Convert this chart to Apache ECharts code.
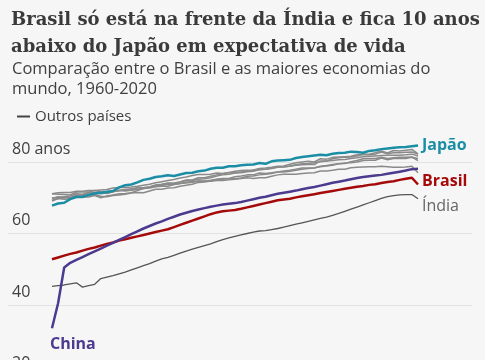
<!DOCTYPE html>
<html><head><meta charset="utf-8">
<script src="https://cdn.jsdelivr.net/npm/echarts@6/dist/echarts.min.js"></script>
<style>html,body{margin:0;padding:0;background:#f6f6f6}#c{width:485px;height:360px}</style>
</head><body><div id="c"></div>
<script>
var startYear = 1960, endYear = 2020;
var yTicks = [20, 40, 60, 80];
var japao = [67.8,68.4,68.6,69.6,70.2,70.2,70.8,71.2,71.4,71.6,71.9,72.9,73.5,73.7,74.3,75.0,75.3,75.8,76.0,76.3,76.1,76.5,76.9,77.0,77.4,77.6,78.1,78.4,78.4,78.8,78.8,79.1,79.2,79.3,79.7,79.5,80.2,80.4,80.5,80.6,81.1,81.4,81.6,81.8,82.0,81.9,82.3,82.5,82.6,82.9,82.8,82.6,83.1,83.3,83.6,83.8,84.0,84.1,84.2,84.4,84.6];
var brasil = [52.8,53.3,53.8,54.3,54.7,55.2,55.7,56.1,56.6,57.1,57.5,58.0,58.4,58.8,59.2,59.6,60.0,60.4,60.8,61.2,61.8,62.4,63.0,63.6,64.2,64.8,65.4,65.9,66.2,66.4,66.6,66.9,67.3,67.7,68.1,68.5,68.9,69.3,69.5,69.7,70.1,70.4,70.7,71.0,71.3,71.6,71.9,72.2,72.5,72.8,73.1,73.3,73.6,73.8,74.1,74.4,74.6,75.0,75.3,75.6,73.7];
var china = [33.5,40.5,50.5,51.8,52.6,53.4,54.2,55.0,55.8,56.6,57.4,58.2,59.0,59.8,60.6,61.4,62.1,62.8,63.4,64.1,64.7,65.3,65.8,66.3,66.7,67.1,67.5,67.8,68.1,68.3,68.5,68.8,69.2,69.6,70.0,70.3,70.7,71.1,71.4,71.7,72.0,72.4,72.7,73.0,73.4,73.8,74.2,74.5,74.8,75.2,75.5,75.8,76.0,76.2,76.4,76.7,77.0,77.3,77.6,78.0,78.1];
var india = [45.2,45.4,45.6,45.9,46.2,45.0,45.4,45.8,47.4,47.8,48.2,48.7,49.2,49.8,50.4,51.0,51.6,52.3,52.9,53.3,53.9,54.5,55.1,55.6,56.1,56.6,57.1,57.7,58.3,58.8,59.2,59.6,60.0,60.4,60.7,60.8,61.1,61.4,61.8,62.2,62.6,63.0,63.4,63.8,64.2,64.6,65.1,65.6,66.2,66.8,67.4,68.0,68.6,69.2,69.8,70.3,70.6,70.8,70.9,70.9,69.7];
var eua = [69.8,70.3,70.1,69.9,70.2,70.2,70.2,70.6,70.0,70.5,70.8,71.1,71.2,71.4,72.0,72.6,72.9,73.3,73.4,73.8,73.7,74.0,74.4,74.5,74.6,74.6,74.6,74.8,74.8,75.0,75.2,75.4,75.6,75.4,75.6,75.6,76.0,76.4,76.6,76.6,76.6,76.8,76.9,77.0,77.5,77.5,77.7,78.0,78.0,78.4,78.5,78.6,78.7,78.7,78.8,78.7,78.5,78.5,78.6,78.8,77.0];
var reinoUnido = [71.1,71.0,70.9,70.8,71.6,71.6,71.6,72.0,71.6,71.8,71.9,72.0,71.9,72.1,72.3,72.6,72.7,73.1,73.2,73.2,73.7,74.0,74.1,74.3,74.7,74.7,74.9,75.2,75.4,75.4,75.9,76.1,76.4,76.4,76.9,76.8,77.0,77.2,77.2,77.4,77.7,78.0,78.2,78.3,78.8,79.0,79.3,79.5,79.6,80.1,80.4,80.9,81.0,81.0,81.3,81.0,81.2,81.3,81.3,81.4,80.4];
var franca = [69.9,70.1,70.3,70.5,71.1,71.0,71.4,71.4,71.5,71.2,71.7,72.0,72.3,72.5,72.7,72.8,73.0,73.5,73.7,74.0,74.1,74.4,74.8,74.8,75.2,75.3,75.6,76.1,76.4,76.6,76.9,77.0,77.3,77.4,77.8,78.0,78.3,78.6,78.7,78.8,79.1,79.2,79.3,79.3,80.3,80.3,80.9,81.2,81.3,81.4,81.7,82.1,82.0,82.2,82.8,82.3,82.6,82.6,82.7,82.8,82.2];
var italia = [69.1,69.8,69.6,69.7,70.8,70.7,71.4,71.5,71.1,71.3,71.7,72.0,72.2,72.1,72.9,72.8,73.0,73.6,73.8,74.1,74.0,74.4,75.0,75.0,75.6,75.6,76.0,76.4,76.7,77.0,77.0,77.2,77.4,77.8,78.2,78.3,78.5,78.8,78.9,79.4,79.8,80.0,80.2,80.0,80.9,80.8,81.3,81.4,81.5,81.6,82.0,82.2,82.2,82.6,83.1,82.5,83.2,83.1,83.3,83.5,82.3];
var alemanha = [69.3,69.8,70.0,70.1,70.7,70.4,70.6,70.9,70.4,70.3,70.6,70.8,71.0,71.3,71.5,71.4,71.9,72.4,72.4,72.7,72.8,73.2,73.5,73.8,74.3,74.4,74.7,75.1,75.2,75.3,75.3,75.5,76.0,76.1,76.4,76.6,76.8,77.2,77.5,77.7,78.0,78.3,78.3,78.4,78.7,78.9,79.1,79.5,79.7,79.8,80.0,80.4,80.5,80.5,81.1,80.6,81.0,81.0,81.0,81.3,81.0];
var canada = [71.1,71.4,71.5,71.5,71.8,71.8,72.0,72.0,72.2,72.3,72.7,72.9,72.9,73.0,73.2,73.5,73.8,74.2,74.5,74.8,75.1,75.5,75.8,76.2,76.5,76.5,76.6,76.9,76.8,77.1,77.4,77.6,77.7,77.6,77.9,78.0,78.2,78.5,78.6,78.9,79.2,79.5,79.6,79.8,80.1,80.3,80.4,80.6,80.7,81.0,81.2,81.5,81.6,81.7,81.8,81.9,81.9,81.9,82.0,82.2,81.7];
var outros = [eua, reinoUnido, franca, italia, alemanha, canada];

var years = [];
for (var y = startYear; y <= endYear; y++) years.push(y);
function pairs(arr) { return arr.map(function (v, i) { return [years[i], v]; }); }

var SANS = '"Open Sans", sans-serif';
var series = [];
outros.forEach(function (arr) {
  series.push({ name: 'Outros países', type: 'line', data: pairs(arr), showSymbol: false, clip: false,
    lineStyle: { color: '#8a8a8a', width: 1.5 }, itemStyle: { color: '#555' }, z: 2, silent: true });
});
series.push({ name: 'Índia', type: 'line', data: pairs(india), showSymbol: false, clip: false,
  lineStyle: { color: '#555555', width: 1.3 }, z: 3,
  endLabel: { show: true, formatter: 'Índia', color: '#666', fontFamily: SANS, fontSize: 16, offset: [0, 8], distance: 4 } });
series.push({ name: 'Brasil', type: 'line', data: pairs(brasil), showSymbol: false, clip: false,
  lineStyle: { color: '#a50a0a', width: 2.5 }, z: 4,
  endLabel: { show: true, formatter: 'Brasil', color: '#a50a0a', fontFamily: SANS, fontWeight: 'bold', fontSize: 16, offset: [0, -3], distance: 4 } });
series.push({ name: 'China', type: 'line', data: pairs(china), showSymbol: false, clip: false,
  lineStyle: { color: '#4c3a8f', width: 2.5 }, z: 5,
  markPoint: { symbol: 'circle', symbolSize: 0, silent: true,
    data: [{ coord: [years[0], china[0]],
      label: { show: true, formatter: 'China', position: 'bottom', align: 'left', offset: [-2, 3], color: '#4c3a8f', fontFamily: SANS, fontWeight: 'bold', fontSize: 16 } }] } });
series.push({ name: 'Japão', type: 'line', data: pairs(japao), showSymbol: false, clip: false,
  lineStyle: { color: '#1b8ea6', width: 2.5 }, z: 6,
  endLabel: { show: true, formatter: 'Japão', color: '#1b8ea6', fontFamily: SANS, fontWeight: 'bold', fontSize: 16, distance: 4 } });

var chart = echarts.init(document.getElementById('c'), null, { renderer: 'canvas' });
chart.setOption({
  backgroundColor: '#f6f6f6',
  animation: false,
  title: [
    { text: 'Brasil só está na frente da Índia e fica 10 anos\nabaixo do Japão em expectativa de vida', left: 6, top: 2,
      textStyle: { fontFamily: '"DejaVu Serif", serif', fontWeight: 'bold', fontSize: 18, lineHeight: 27, color: '#3a3a3a' } },
    { text: 'Comparação entre o Brasil e as maiores economias do\nmundo, 1960-2020', left: 7, top: 55,
      textStyle: { fontFamily: SANS, fontWeight: 'normal', fontSize: 16.5, lineHeight: 19.5, color: '#404040' } }
  ],
  legend: { show: true, left: 12, top: 104, itemWidth: 13, itemHeight: 2, itemGap: 10,
    data: [{ name: 'Outros países', icon: 'rect', itemStyle: { color: '#444' } }],
    textStyle: { fontFamily: SANS, fontSize: 15, color: '#404040' }, selectedMode: false },
  grid: { left: 8, right: 13, top: 162, height: 214.5, containLabel: false, outerBoundsMode: 'none' },
  xAxis: { type: 'value', min: 1952.79, max: 2028.85, show: false },
  yAxis: { type: 'value', min: yTicks[0], max: yTicks[yTicks.length - 1], interval: 20,
    axisLine: { show: false }, axisTick: { show: false },
    splitLine: { show: true, lineStyle: { color: '#e2e2e2', width: 1 } },
    axisLabel: { inside: true, verticalAlign: 'bottom', margin: 4, padding: [0, 0, 5, 0],
      fontFamily: SANS, fontSize: 16, color: '#404040',
      formatter: function (v) { return v === 80 ? '80 anos' : String(v); } } },
  series: series
});
</script></body></html>
